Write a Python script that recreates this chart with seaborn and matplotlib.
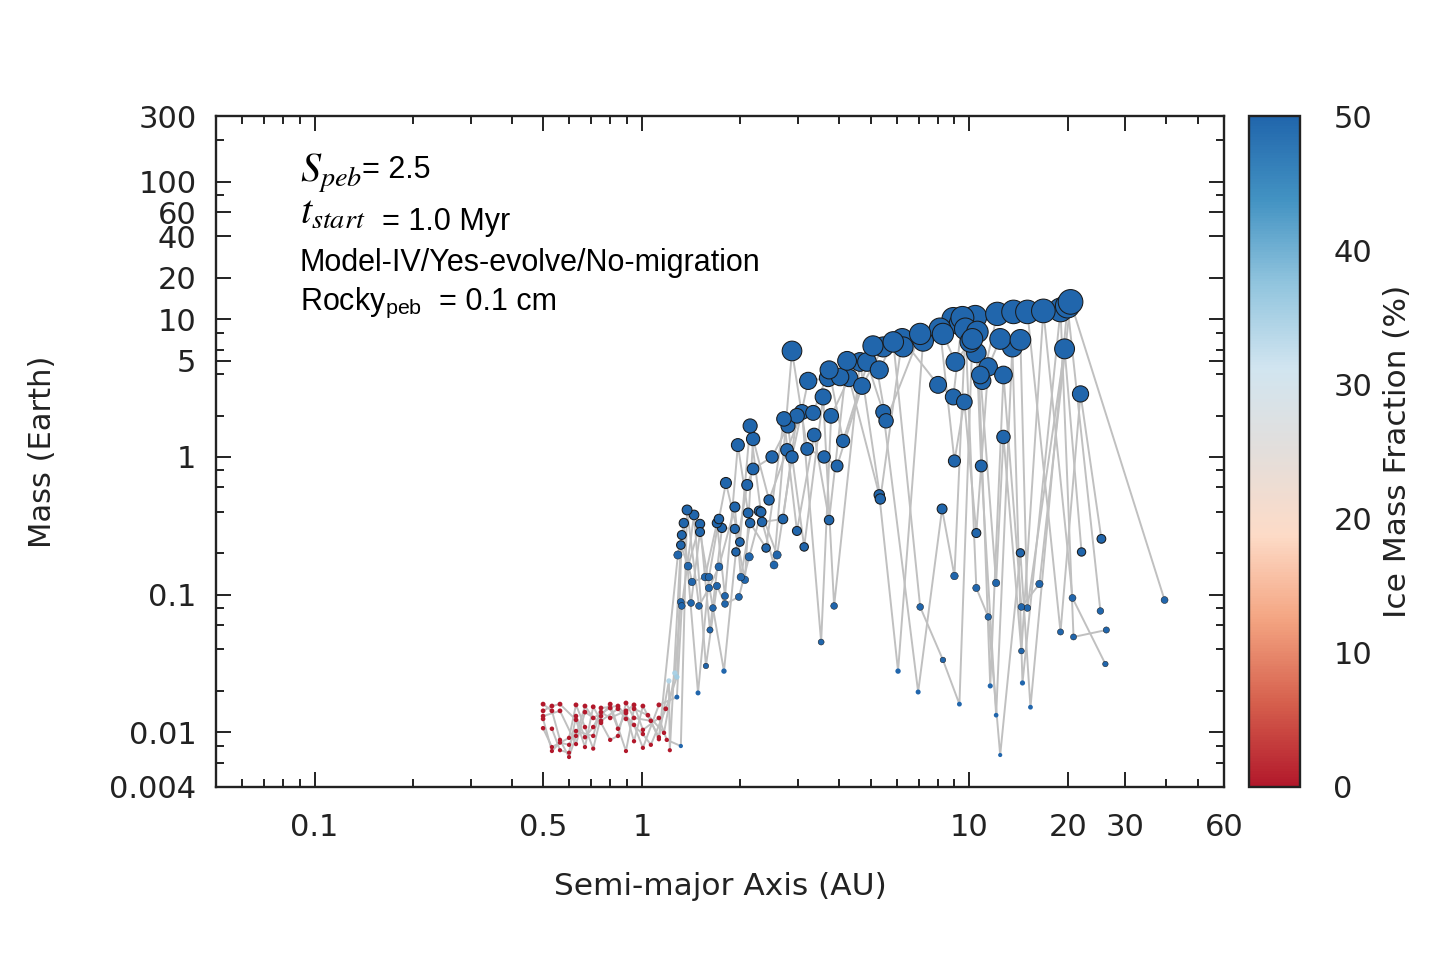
import numpy as np
import pandas as pd
import matplotlib
matplotlib.use("Agg")
import matplotlib.pyplot as plt
import matplotlib.colors as mcolors
from matplotlib.ticker import FixedLocator, FixedFormatter, NullFormatter
import seaborn as sns


# 每個模擬 run 的最終行星: (semi-major axis [AU], mass [Earth], ice mass fraction [%])
run1 = [(0.499, 0.0160, 0), (0.531, 0.0143, 0), (0.562, 0.0088, 0), (0.599, 0.0066, 0),
        (0.629, 0.0094, 0), (0.670, 0.0155, 0), (0.710, 0.0127, 0), (0.800, 0.0150, 0),
        (0.845, 0.0106, 0), (0.894, 0.0138, 0), (0.946, 0.0086, 0), (1.007, 0.0155, 0),
        (1.127, 0.0092, 0), (1.217, 0.0074, 0),
        (1.209, 0.0236, 34), (1.315, 0.229, 50), (1.384, 0.161, 50), (1.505, 0.326, 50),
        (1.614, 0.0553, 50), (1.756, 0.305, 50), (1.923, 0.300, 50), (2.064, 0.128, 50),
        (2.186, 1.35, 50), (2.446, 0.487, 50), (2.775, 1.124, 50), (3.082, 2.12, 50),
        (3.528, 0.0452, 50), (3.785, 1.99, 50), (4.294, 3.75, 50), (5.31, 0.530, 50),
        (6.06, 0.0278, 50), (7.23, 6.97, 50), (8.94, 10.07, 50), (9.39, 9.26, 50),
        (10.43, 10.41, 50), (10.88, 0.860, 50), (12.08, 0.0133, 50), (13.54, 6.30, 50),
        (14.54, 0.0228, 50), (19.00, 11.70, 50), (20.82, 0.0492, 50), (26.23, 0.0553, 50)]

run2 = [(0.499, 0.0107, 0), (0.531, 0.0078, 0), (0.599, 0.0091, 0), (0.629, 0.0158, 0),
        (0.670, 0.0109, 0), (0.710, 0.0076, 0), (0.750, 0.0131, 0), (0.800, 0.0160, 0),
        (0.894, 0.0073, 0), (0.946, 0.0148, 0), (1.043, 0.0133, 0), (1.168, 0.0099, 0),
        (1.261, 0.0269, 35), (1.315, 0.0884, 50), (1.413, 0.0869, 50), (1.505, 0.285, 50),
        (1.648, 0.0799, 50), (1.781, 0.0278, 50), (1.937, 0.204, 50), (2.097, 0.626, 50),
        (2.186, 0.818, 50), (2.498, 1.00, 50), (2.794, 1.68, 50), (3.131, 0.222, 50),
        (3.578, 2.73, 50), (3.865, 0.0827, 50), (4.637, 4.90, 50), (5.35, 0.495, 50),
        (6.24, 7.20, 50), (8.03, 3.34, 50), (8.94, 2.73, 50), (9.53, 10.24, 50),
        (10.51, 5.70, 50), (10.96, 3.57, 50), (12.18, 10.95, 50), (13.65, 11.32, 50),
        (15.05, 11.32, 50), (19.00, 0.0535, 50), (21.87, 2.87, 50), (25.33, 0.254, 50)]

run3 = [(0.499, 0.0143, 0), (0.531, 0.0155, 0), (0.562, 0.0160, 0), (0.629, 0.0123, 0),
        (0.670, 0.0078, 0), (0.710, 0.0153, 0), (0.750, 0.0121, 0), (0.845, 0.0148, 0),
        (0.894, 0.0125, 0), (1.007, 0.0097, 0), (1.065, 0.0081, 0), (1.183, 0.0148, 0),
        (1.279, 0.0252, 36), (1.324, 0.271, 50), (1.423, 0.1235, 50), (1.559, 0.134, 50),
        (1.695, 0.331, 50), (1.794, 0.0977, 50), (1.964, 1.22, 50), (2.111, 0.392, 50),
        (2.281, 0.405, 50), (2.533, 0.164, 50), (2.874, 5.89, 50), (3.198, 1.143, 50),
        (3.603, 1.00, 50), (3.947, 0.860, 50), (4.703, 3.28, 50), (5.46, 6.30, 50),
        (6.28, 6.30, 50), (8.14, 8.52, 50), (9.01, 0.935, 50), (9.66, 2.51, 50),
        (10.51, 0.280, 50), (11.43, 4.51, 50), (12.43, 7.20, 50), (14.33, 7.09, 50),
        (15.05, 0.0799, 50), (19.55, 6.10, 50), (22.03, 0.204, 50)]

run4 = [(0.499, 0.0125, 0), (0.531, 0.0073, 0), (0.562, 0.0084, 0), (0.599, 0.0081, 0),
        (0.629, 0.0102, 0), (0.710, 0.0094, 0), (0.750, 0.0150, 0), (0.845, 0.0155, 0),
        (0.946, 0.0113, 0), (1.007, 0.0077, 0), (1.127, 0.0158, 0),
        (1.279, 0.0180, 50), (1.324, 0.0827, 50), (1.443, 0.379, 50), (1.569, 0.0303, 50),
        (1.695, 0.1155, 50), (1.794, 0.0855, 50), (1.978, 0.0961, 50), (2.127, 0.188, 50),
        (2.312, 0.398, 50), (2.588, 0.194, 50), (2.874, 1.00, 50), (3.221, 3.57, 50),
        (3.705, 3.75, 50), (4.030, 3.81, 50), (4.870, 4.90, 50), (5.46, 2.12, 50),
        (6.98, 0.0196, 50), (8.26, 0.419, 50), (9.01, 0.1365, 50), (9.73, 8.52, 50),
        (10.51, 0.1117, 50), (11.43, 0.0688, 50), (12.43, 0.00683, 50), (14.33, 0.201, 50),
        (15.38, 0.0152, 50), (19.96, 12.52, 50), (25.15, 0.0760, 50)]

run5 = [(0.499, 0.0131, 0), (0.562, 0.0143, 0), (0.629, 0.0082, 0), (0.670, 0.0140, 0),
        (0.750, 0.0117, 0), (0.800, 0.0088, 0), (0.845, 0.0094, 0), (0.894, 0.0163, 0),
        (0.946, 0.0127, 0), (1.065, 0.0121, 0), (1.127, 0.0089, 0),
        (1.288, 0.194, 50), (1.343, 0.331, 50), (1.484, 0.0193, 50), (1.603, 0.134, 50),
        (1.719, 0.354, 50), (1.806, 0.647, 50), (1.992, 0.241, 50), (2.141, 1.68, 50),
        (2.329, 0.337, 50), (2.698, 0.354, 50), (2.976, 1.99, 50), (3.335, 2.09, 50),
        (3.731, 4.29, 50), (4.117, 1.307, 50), (5.08, 6.41, 50), (5.57, 1.83, 50),
        (7.08, 7.83, 50), (8.31, 7.83, 50), (9.07, 4.90, 50), (10.07, 6.85, 50),
        (10.59, 8.10, 50), (11.59, 0.0217, 50), (12.72, 3.94, 50), (14.43, 0.0813, 50),
        (16.38, 0.1194, 50), (20.39, 13.38, 50), (39.5, 0.0913, 50)]

run6 = [(0.531, 0.0106, 0), (0.562, 0.0074, 0), (0.599, 0.0071, 0), (0.629, 0.0131, 0),
        (0.670, 0.0092, 0), (0.710, 0.0109, 0), (0.750, 0.0140, 0), (0.800, 0.0127, 0),
        (0.894, 0.0143, 0), (0.946, 0.0158, 0), (1.007, 0.0104, 0), (1.127, 0.0127, 0),
        (1.191, 0.0088, 0),
        (1.315, 0.00794, 50), (1.374, 0.412, 50), (1.494, 0.0827, 50), (1.603, 0.1117, 50),
        (1.719, 0.159, 50), (1.923, 0.433, 50), (2.006, 0.134, 50), (2.141, 0.331, 50),
        (2.395, 0.218, 50), (2.716, 1.89, 50), (2.976, 0.290, 50), (3.359, 1.445, 50),
        (3.731, 0.348, 50), (4.234, 4.99, 50), (5.31, 4.29, 50), (5.86, 6.85, 50),
        (7.08, 0.0813, 50), (8.31, 0.0335, 50), (9.33, 0.0160, 50), (10.22, 7.20, 50),
        (10.81, 3.94, 50), (12.08, 0.1215, 50), (12.72, 1.397, 50), (14.43, 0.0389, 50),
        (16.84, 11.51, 50), (20.67, 0.0945, 50), (26.05, 0.0313, 50)]

# 座標軸刻度
x_major = [0.1, 0.5, 1, 10, 20, 30, 60]
x_major_labels = ['0.1', '0.5', '1', '10', '20', '30', '60']
x_minor = [0.06, 0.07, 0.08, 0.09, 0.2, 0.3, 0.4, 0.6, 0.7, 0.8, 0.9,
           2, 3, 4, 5, 6, 7, 8, 9, 40, 50]
y_major = [0.004, 0.01, 0.1, 1, 5, 10, 20, 40, 60, 100, 300]
y_major_labels = ['0.004', '0.01', '0.1', '1', '5', '10', '20', '40', '60', '100', '300']
y_minor = [0.006, 0.008, 0.02, 0.04, 0.06, 0.08, 0.2, 0.4, 0.6, 0.8, 2, 4, 6, 8, 80, 200]
cbar_ticks = [0, 10, 20, 30, 40, 50]
cbar_colors = ['#b2182b', '#d6604d', '#f4a582', '#fddbc7', '#e3dedb',
               '#d1e5f0', '#92c5de', '#4393c3', '#2166ac']

runs = [run1, run2, run3, run4, run5, run6]
df = pd.DataFrame([(k, a, m, ice) for k, run in enumerate(runs, 1) for a, m, ice in run],
                  columns=['run', 'a', 'mass', 'ice'])

# 點的大小隨質量變化
d_px = 1.8 + 10.5 * df['mass'] ** 0.3
df['ms'] = (d_px * 0.72) ** 2
edge_lw = np.where(df['mass'] > 0.2, 0.75, np.where(df['mass'] > 0.03, 0.35, 0.0))

# 設定繪圖風格
sns.set_style('ticks')
plt.rcParams['font.family'] = ['DejaVu Sans']
plt.rcParams['mathtext.fontset'] = 'custom'
plt.rcParams['mathtext.it'] = 'STIXGeneral:italic'
plt.rcParams['mathtext.rm'] = 'Liberation Sans'

ink = '#222222'
cmap = mcolors.LinearSegmentedColormap.from_list('ice_rdbu', cbar_colors)

W, H = 1440, 960
fig = plt.figure(figsize=(W / 100, H / 100), dpi=100)
ax = fig.add_axes([216 / W, 1 - 787 / H, 1008 / W, 671 / H])
cax = fig.add_axes([1249 / W, 1 - 787 / H, 51 / W, 671 / H])

# 連線 + 散點
sns.lineplot(data=df, x='a', y='mass', units='run', estimator=None, sort=True,
             color='#c0c0c0', lw=1.4, ax=ax, zorder=1)
ms_rng = (df['ms'].min(), df['ms'].max())
sns.scatterplot(data=df, x='a', y='mass', hue='ice', palette=cmap, hue_norm=(0, 50),
                size='ms', sizes=ms_rng, size_norm=ms_rng, edgecolor='#1a1a1a',
                linewidth=edge_lw, legend=False, ax=ax, zorder=3)

ax.set_xscale('log')
ax.set_yscale('log')
ax.set_xlim(0.05, 60)
ax.set_ylim(0.004, 300)
ax.xaxis.set_major_locator(FixedLocator(x_major))
ax.xaxis.set_major_formatter(FixedFormatter(x_major_labels))
ax.xaxis.set_minor_locator(FixedLocator(x_minor))
ax.xaxis.set_minor_formatter(NullFormatter())
ax.yaxis.set_major_locator(FixedLocator(y_major))
ax.yaxis.set_major_formatter(FixedFormatter(y_major_labels))
ax.yaxis.set_minor_locator(FixedLocator(y_minor))
ax.yaxis.set_minor_formatter(NullFormatter())

ax.tick_params(which='both', direction='in', top=True, right=True, width=1.4,
               color=ink, labelcolor=ink, labelsize=22)
ax.tick_params(which='major', length=11)
ax.tick_params(which='minor', length=5.5)
ax.tick_params(axis='x', pad=19)
ax.tick_params(axis='y', pad=14)
for spine in ax.spines.values():
    spine.set_linewidth(1.7)
    spine.set_color(ink)

ax.set_xlabel('Semi-major Axis (AU)', fontsize=22.5, color=ink)
ax.set_ylabel('Mass (Earth)', fontsize=22, color=ink)
ax.xaxis.set_label_coords(0.5, -0.127)
ax.yaxis.set_label_coords(-0.158, 0.5)

# 色條
sm = plt.cm.ScalarMappable(norm=mcolors.Normalize(0, 50), cmap=cmap)
cb = fig.colorbar(sm, cax=cax)
cb.set_ticks(cbar_ticks)
cb.set_ticklabels([str(t) for t in cbar_ticks])
cax.tick_params(direction='in', length=11, width=1.4, left=True, right=True,
                color=ink, labelcolor=ink, labelsize=22, pad=24)
cax.minorticks_off()
cb.outline.set_linewidth(1.7)
cb.outline.set_edgecolor(ink)
cb.set_label('Ice Mass Fraction (%)', fontsize=22.5, color=ink)
cax.yaxis.set_label_coords(2.62, 0.5)

# 左上角的參數說明
renderer = fig.canvas.get_renderer()
math_big = dict(fontsize=29)
sans = dict(fontsize=22, family='Liberation Sans')


def text_row(parts, x_px):
    x = x_px
    for s, y_px, kw in parts:
        t = fig.text(x / W, 1 - y_px / H, s, ha='left', va='baseline', color='black', **kw)
        x = t.get_window_extent(renderer).x1


text_row([(r'$S_{peb}$', 182, math_big), ('= 2.5', 178, sans)], 300)
text_row([(r'$t_{start}$', 224, math_big), ('  = 1.0 Myr', 230, sans)], 300)
text_row([('Model-IV/Yes-evolve/No-migration', 271, sans)], 300)
text_row([(r'Rocky$_{\mathrm{peb}}$', 310, sans), ('  = 0.1 cm', 310, sans)], 300)

plt.savefig('out.png', dpi=100, facecolor='white')
plt.close()
